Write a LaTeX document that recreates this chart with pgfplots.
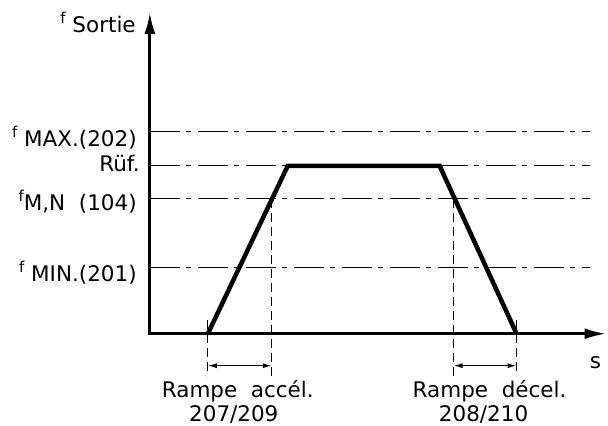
\documentclass[border=0pt]{standalone}
\usepackage{pgfplots}
\pgfplotsset{compat=1.18}
\usepackage{fontspec}
\setmainfont{DejaVu Sans}
\usetikzlibrary{arrows.meta}

\newcommand{\smallf}{\raisebox{9pt}{\fontsize{15}{15}\selectfont f}}

\begin{document}
\begin{tikzpicture}
\begin{axis}[
    width=608pt, height=426pt, scale only axis,
    xmin=0, xmax=608, ymin=0, ymax=426,
    hide axis, clip=false,
    font=\fontsize{21.5}{24}\selectfont
]
% bounding box
\addplot[draw=none] coordinates {(0,0) (608,426)};

% reference levels (dash-dot)
\pgfplotsset{refline/.style={black, line width=1.1pt, dash pattern=on 30pt off 6pt on 5pt off 7pt}}
\addplot[refline] coordinates {(150,294) (590,294)};
\addplot[refline] coordinates {(150,260) (590,260)};
\addplot[refline] coordinates {(150,227) (590,227)};
\addplot[refline] coordinates {(150,158) (590,158)};

% ramp guides (dashed)
\pgfplotsset{guide/.style={black, line width=1.1pt, dash pattern=on 9pt off 5pt}}
\addplot[guide] coordinates {(208,106) (208,50)};
\addplot[guide] coordinates {(272,227) (272,50)};
\addplot[guide] coordinates {(454,227) (454,50)};
\addplot[guide] coordinates {(517,106) (517,50)};
\addplot[black, line width=1.2pt, {Latex[length=9pt,width=5pt]}-{Latex[length=9pt,width=5pt]}] coordinates {(208,60) (272,60)};
\addplot[black, line width=1.2pt, {Latex[length=9pt,width=5pt]}-{Latex[length=9pt,width=5pt]}] coordinates {(454,60) (517,60)};

% axes
\addplot[black, line width=3pt, -{Latex[length=22pt,width=11pt]}] coordinates {(150,92) (150,414)};
\addplot[black, line width=3pt, -{Latex[length=22pt,width=11pt]}] coordinates {(148.5,92) (607,92)};

% output frequency profile
\addplot[black, line width=4.5pt, line join=miter] coordinates {(208,92) (288,260) (440,260) (517,92)};

% labels
\node[anchor=base east, inner sep=0pt] at (axis cs:136,393) {\smallf\ Sortie};
\node[anchor=base east, inner sep=0pt] at (axis cs:137,279) {\smallf\ MAX.(202)};
\node[anchor=base east, inner sep=0pt] at (axis cs:140,254) {Rüf.};
\node[anchor=base east, inner sep=0pt] at (axis cs:137,215) {\smallf M,N\ \ (104)};
\node[anchor=base east, inner sep=0pt] at (axis cs:137,144) {\smallf\ MIN.(201)};
\node[anchor=base, inner sep=0pt] at (axis cs:596,57) {s};
\node[anchor=base, inner sep=0pt] at (axis cs:238,28) {Rampe\ \ accél.};
\node[anchor=base, inner sep=0pt] at (axis cs:234,4) {207/209};
\node[anchor=base, inner sep=0pt] at (axis cs:490,28) {Rampe\ \ décel.};
\node[anchor=base, inner sep=0pt] at (axis cs:484,4) {208/210};
\end{axis}
\end{tikzpicture}
\end{document}
